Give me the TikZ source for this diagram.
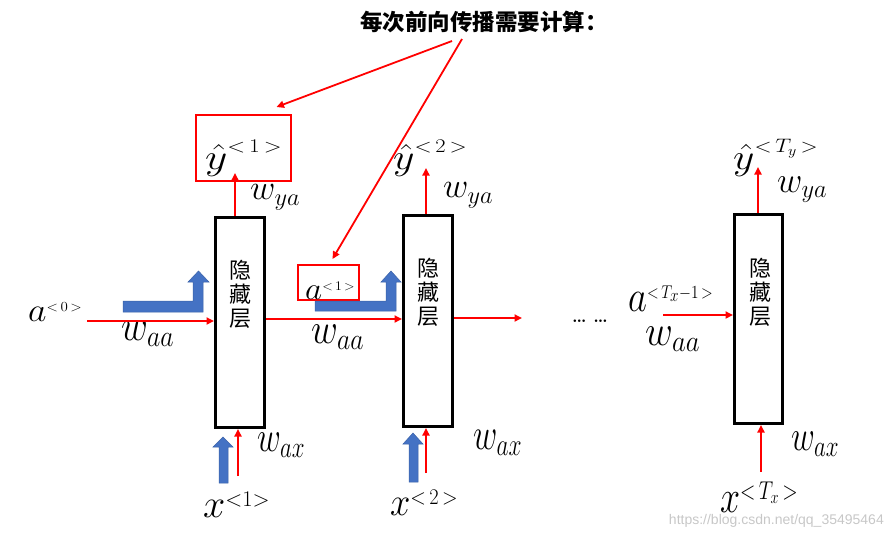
\RequirePackage{fix-cm}
\documentclass[tikz,border=0pt]{standalone}
\usepackage{graphicx}
\usepackage{fontspec}
\newfontfamily\cjk{Noto Sans CJK SC}
\newfontfamily\wmfont{Liberation Sans}
\usetikzlibrary{arrows.meta}
\definecolor{arrowblue}{HTML}{4472C4}
\newcommand{\fitbox}[3]{\resizebox*{#1pt}{#2pt}{\fontsize{30}{30}\selectfont$#3$}}
\newcommand{\bigbase}[2]{\scalebox{#1}{$#2$}}
\begin{document}
\begin{tikzpicture}[x=1pt,y=-1pt,
  ra/.style={draw=red, line width=1.8pt, -{Triangle[length=7.5pt,width=7pt]}},
  hid/.style={draw=black, line width=3pt, inner sep=0pt, minimum width=49pt},
  rbox/.style={draw=red, line width=2pt, inner sep=0pt},
  hidtxt/.style={font=\cjk\fontsize{22}{24}\selectfont, align=center, inner sep=0pt},
  mlab/.style={anchor=south west, inner sep=0pt},
  blu/.style={fill=arrowblue, draw=arrowblue!85!black, line width=0.5pt}]
\useasboundingbox (0,0) rectangle (891,539);

% title
\node[font=\cjk\bfseries\fontsize{22.5}{24}\selectfont, inner sep=0pt] (title) at (484,22) {每次前向传播需要计算：};

% hidden layer boxes
\node[hid, minimum height=210pt] (box1) at (240,322.5) {};
\node[hid, minimum height=211pt] (box2) at (428,321) {};
\node[hid, minimum width=48pt, minimum height=209pt] (box3) at (758.5,319) {};
\node[hidtxt] (h1) at (240,294) {隐\\藏\\层};
\node[hidtxt] (h2) at (428,292) {隐\\藏\\层};
\node[hidtxt] (h3) at (760,292) {隐\\藏\\层};

% red highlight boxes
\node[rbox, minimum width=95pt, minimum height=66pt] (yb1) at (243.5,148) {};
\node[rbox, minimum width=61pt, minimum height=35pt] (ab1) at (328.5,282.5) {};

% math labels (left, bottom)
\node[mlab] (y1) at (205,177) {\fitbox{77}{37}{\bigbase{1.3}{\hat{y}}^{<\,1\,>}}};
\node[mlab] (y2) at (393,177) {\fitbox{74}{37}{\bigbase{1.3}{\hat{y}}^{<\,2\,>}}};
\node[mlab] (y3) at (733,177) {\fitbox{85}{38}{\bigbase{1.3}{\hat{y}}^{<\,T_y\,>}}};
\node[mlab] (wya1) at (250,210) {\fitbox{50}{25}{w_{ya}}};
\node[mlab] (wya2) at (443,208) {\fitbox{50}{25}{w_{ya}}};
\node[mlab] (wya3) at (777,203) {\fitbox{50}{26}{w_{ya}}};
\node[mlab] (waa1) at (121,347) {\fitbox{53}{25}{w_{aa}}};
\node[mlab] (waa2) at (311,350) {\fitbox{53}{25}{w_{aa}}};
\node[mlab] (waa3) at (645,352) {\fitbox{55}{25}{w_{aa}}};
\node[mlab] (wax1) at (257,458) {\fitbox{48}{25}{w_{ax}}};
\node[mlab] (wax2) at (473,456) {\fitbox{49}{26}{w_{ax}}};
\node[mlab] (wax3) at (791,457) {\fitbox{48}{25}{w_{ax}}};
\node[mlab] (a0) at (28,322) {\fitbox{54}{19}{\bigbase{1.2}{a}^{\scriptscriptstyle <\,0\,>}}};
\node[mlab] (a1) at (305,300) {\fitbox{50}{18}{\bigbase{1.2}{a}^{\scriptscriptstyle <\,1\,>}}};
\node[mlab] (aT) at (628,312) {\fitbox{85}{26}{\bigbase{1.2}{a}^{\scriptscriptstyle <\,T_x-1\,>}}};
\node[mlab] (x1) at (203,518) {\fitbox{67}{26}{\bigbase{1.25}{x}^{<1>}}};
\node[mlab] (x2) at (390,516) {\fitbox{68}{26}{\bigbase{1.25}{x}^{<\,2\,>}}};
\node[mlab] (x3) at (720,513) {\fitbox{78}{31}{\bigbase{1.25}{x}^{<\,T_x\,>}}};
\node[anchor=base west, inner sep=0pt, font=\bfseries\fontsize{18}{20}\selectfont] (dots) at (572,322) {\ldots\ \ldots};

% watermark
\node[anchor=east, inner sep=0pt, font=\wmfont\fontsize{14}{16}\selectfont, text=black!22] (wm) at (884,521) {https://blog.csdn.net/qq\_35495464};

% red connectors
\coordinate (s1) at (452,41);
\coordinate (s2) at (462,39);
\draw[ra] (s1) -- ([shift={(33,-7)}]yb1.north);
\draw[ra] (s2) -- ([shift={(4,-5)}]ab1.north);

\coordinate (c0) at (87,321);
\draw[ra] (c0) -- (c0 -| box1.west);
\draw[ra] ([yshift=3.5pt]box1.east) -- ([yshift=2pt]box2.west);
\coordinate (o2) at (522,318);
\draw[ra] ([yshift=3pt]box2.east) -- (o2);
\coordinate (cT) at (663,315);
\draw[ra] (cT) -- (cT -| box3.west);

\coordinate (t1) at (235,173);
\coordinate (t2) at (426,168);
\coordinate (t3) at (758,167);
\draw[ra] (t1 |- box1.north) -- (t1);
\draw[ra] (t2 |- box2.north) -- (t2);
\draw[ra] (t3 |- box3.north) -- (t3);

\coordinate (b1) at (238,476);
\coordinate (b2) at (426,473);
\coordinate (b3) at (761,472);
\draw[ra] (b1) -- (b1 |- box1.south);
\draw[ra] (b2) -- (b2 |- box2.south);
\draw[ra] (b3) -- (b3 |- box3.south);

% blue arrows
\draw[blu] (123,301) -- (193,301) -- (193,282) -- (188,282) -- (198.5,271) -- (209,282) -- (203,282) -- (203,312) -- (123,312) -- cycle;
\draw[blu] (315,301) -- (386,301) -- (386,282) -- (381,282) -- (391,271) -- (401,282) -- (396,282) -- (396,311) -- (315,311) -- cycle;
\draw[blu] (219,483) -- (219,447) -- (213,447) -- (223,437) -- (233,447) -- (228,447) -- (228,483) -- cycle;
\draw[blu] (409,482) -- (409,444) -- (403,444) -- (413,433) -- (423,444) -- (418,444) -- (418,482) -- cycle;
\end{tikzpicture}
\end{document}
